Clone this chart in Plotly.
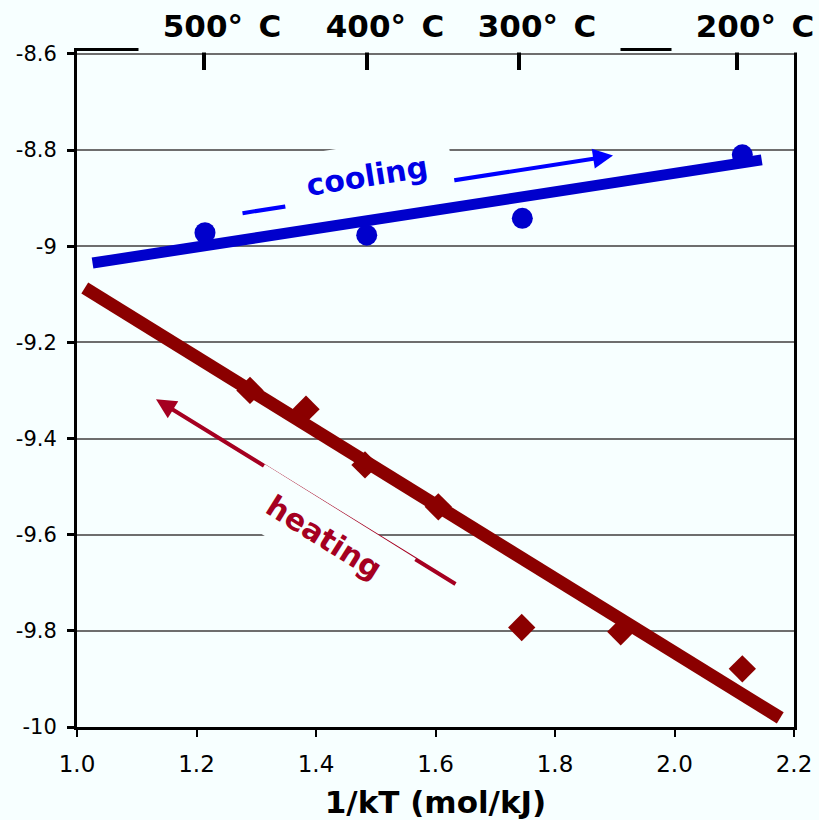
import plotly.graph_objects as go

# ---- data ----
cool_x = [1.2142, 1.4849, 1.7453, 2.1135]
cool_y = [-8.972, -8.977, -8.942, -8.810]

heat_x = [1.2895, 1.3833, 1.4820, 1.6047, 1.7443, 1.9100, 2.1135]
heat_y = [-9.300, -9.339, -9.455, -9.542, -9.793, -9.802, -9.879]

cool_fit_x = [1.026, 2.146]
cool_fit_y = [-9.035, -8.8205]
heat_fit_x = [1.013, 2.177]
heat_fit_y = [-9.087, -9.981]

temp_x = [1.2131, 1.4854, 1.7397, 2.1041]
temp_labels = ["500°\u2002C", "400°\u2002C", "300°\u2002C", "200°\u2002C"]

x_ticks = [1.0, 1.2, 1.4, 1.6, 1.8, 2.0, 2.2]
x_ticktext = ["1.0", "1.2", "1.4", "1.6", "1.8", "2.0", "2.2"]
y_ticks = [-10.0, -9.8, -9.6, -9.4, -9.2, -9.0, -8.8, -8.6]
y_ticktext = ["-10", "-9.8", "-9.6", "-9.4", "-9.2", "-9", "-8.8", "-8.6"]

BG = "#F7FFFF"
FONT = "DejaVu Sans"
BLUE = "#0000CC"
RED = "#8B0000"
ARROW_RED = "#A50021"

fig = go.Figure()

fig.add_trace(go.Scatter(x=cool_x, y=cool_y, mode="markers",
                         marker=dict(symbol="circle", size=21, color=BLUE),
                         showlegend=False, hoverinfo="skip"))
fig.add_trace(go.Scatter(x=heat_x, y=heat_y, mode="markers",
                         marker=dict(symbol="diamond", size=21, color=RED),
                         showlegend=False, hoverinfo="skip"))
fig.add_trace(go.Scatter(x=cool_fit_x, y=cool_fit_y, mode="lines",
                         line=dict(color=BLUE, width=11),
                         showlegend=False, hoverinfo="skip"))
fig.add_trace(go.Scatter(x=heat_fit_x, y=heat_fit_y, mode="lines",
                         line=dict(color=RED, width=13),
                         showlegend=False, hoverinfo="skip"))
# invisible trace to carry the top temperature axis
fig.add_trace(go.Scatter(x=temp_x, y=[-9.5] * len(temp_x), xaxis="x2",
                         mode="markers", marker=dict(opacity=0),
                         showlegend=False, hoverinfo="skip"))

annotations = []
# arrows
annotations.append(dict(x=1.8971, y=-8.8116, ax=1.2745, ay=-8.9318,
                        xref="x", yref="y", axref="x", ayref="y", text="",
                        showarrow=True, arrowhead=2, arrowsize=1, arrowwidth=4,
                        arrowcolor="#0000FF"))
annotations.append(dict(x=1.1322, y=-9.3183, ax=1.636, ay=-9.7046,
                        xref="x", yref="y", axref="x", ayref="y", text="",
                        showarrow=True, arrowhead=2, arrowsize=1, arrowwidth=4,
                        arrowcolor=ARROW_RED))
# rotated labels with background boxes
annotations.append(dict(x=1.4849, y=-8.8532, xref="x", yref="y", text="<b>cooling</b>",
                        showarrow=False, textangle=-9, xanchor="center", yanchor="middle",
                        font=dict(family=FONT, size=30, color="#0000E6"),
                        bgcolor=BG, width=168, height=60))
annotations.append(dict(x=1.4134, y=-9.6042, xref="x", yref="y", text="<b>heating</b>",
                        showarrow=False, textangle=32, xanchor="center", yanchor="middle",
                        font=dict(family=FONT, size=30, color=ARROW_RED),
                        bgcolor=BG, width=175, height=58))
# top temperature labels
for tx, tl in zip(temp_x, temp_labels):
    annotations.append(dict(x=tx, y=1, xref="x", yref="paper", text="<b>" + tl + "</b>",
                            showarrow=False, xanchor="center", yanchor="bottom",
                            xshift=18, yshift=-2, width=164, height=50,
                            font=dict(family=FONT, size=31, color="black"),
                            bgcolor=BG))

fig.update_layout(
    width=819, height=820,
    margin=dict(l=77, r=25, t=51, b=93, autoexpand=False),
    paper_bgcolor=BG, plot_bgcolor=BG,
    font=dict(family=FONT, color="black"),
    annotations=annotations,
    xaxis=dict(range=[1.0, 2.2], tickvals=x_ticks, ticktext=x_ticktext,
               showgrid=False, zeroline=False, automargin=False,
               showline=True, linecolor="black", linewidth=3, mirror=True,
               ticks="outside", ticklen=7, tickwidth=2, tickcolor="black",
               ticklabelstandoff=7,
               tickfont=dict(family=FONT, size=23, color="black"),
               title=dict(text="<b>1/kT (mol/kJ)</b>", standoff=22,
                          font=dict(family=FONT, size=31, color="black"))),
    xaxis2=dict(range=[1.0, 2.2], overlaying="x", side="top", anchor="y",
                tickvals=temp_x, showticklabels=False, showgrid=False, zeroline=False,
                showline=False, ticks="inside", ticklen=19, tickwidth=4, tickcolor="black",
                automargin=False),
    yaxis=dict(range=[-10.0, -8.594], tickvals=y_ticks, ticktext=y_ticktext,
               showgrid=True, gridcolor="#6E6E6E", gridwidth=1.5, zeroline=False,
               showline=True, linecolor="black", linewidth=3, mirror=True,
               ticks="outside", ticklen=7, tickwidth=3, tickcolor="black",
               ticklabelstandoff=6, automargin=False,
               tickfont=dict(family=FONT, size=21, color="black")),
)

fig.write_html("out.html")
